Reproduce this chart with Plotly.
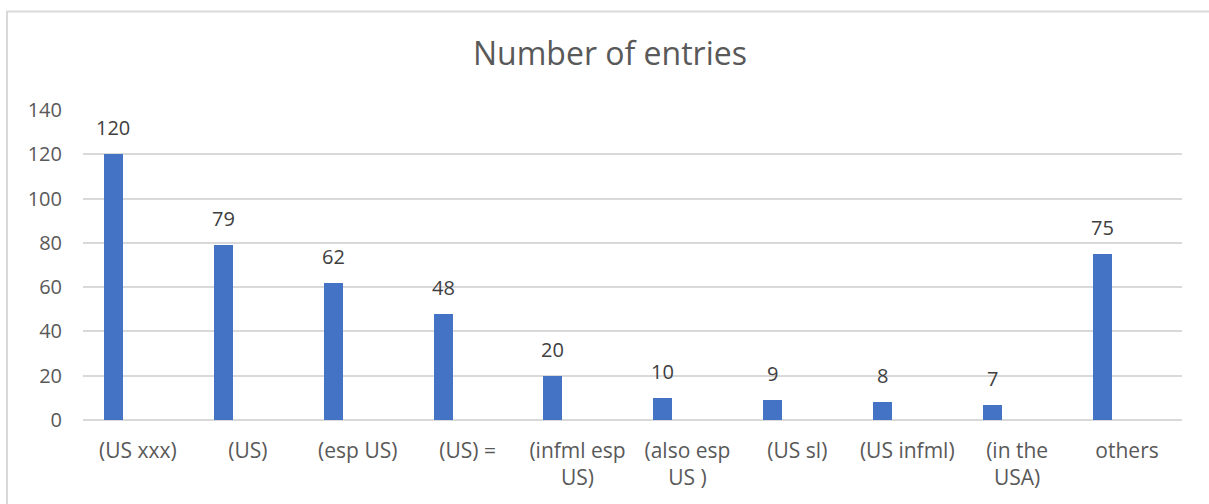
import plotly.graph_objects as go

categories = ["(US xxx)", "(US)", "(esp US)", "(US) =", "(infml esp<br>US)",
              "(also esp<br>US )", "(US sl)", "(US infml)", "(in the<br>USA)", "others"]
entries = [120, 79, 62, 48, 20, 10, 9, 8, 7, 75]
y_ticks = [0, 20, 40, 60, 80, 100, 120, 140]

BAR_COLOR = "#4472C4"
GRID_COLOR = "#D9D9D9"
TEXT_COLOR = "#595959"
LABEL_COLOR = "#404040"
FONT = "Open Sans"

BAR_WIDTH = 0.173
BAR_OFFSET = -0.31

fig = go.Figure()
fig.add_trace(go.Bar(
    x=categories,
    y=entries,
    width=BAR_WIDTH,
    offset=BAR_OFFSET,
    marker=dict(color=BAR_COLOR, line=dict(width=0)),
    hoverinfo="x+y",
))

# value labels centred above each bar
for i, v in enumerate(entries):
    fig.add_annotation(
        x=i + BAR_OFFSET + BAR_WIDTH / 2, y=v, xref="x", yref="y",
        text=str(v), showarrow=False, yanchor="bottom", yshift=11,
        font=dict(family=FONT, size=20, color=LABEL_COLOR),
    )

L, R, T, B = 83, 27, 110, 84
W, H = 1209, 504
pw, ph = W - L - R, H - T - B

# light chart-area border (pixel positions converted to paper units)
fig.add_shape(
    type="rect", xref="paper", yref="paper",
    x0=(7 - L) / pw, x1=(1212 - L) / pw,
    y0=(H - B - 515) / ph, y1=(H - B - 11.5) / ph,
    line=dict(color=GRID_COLOR, width=2), layer="below",
)

fig.update_layout(
    width=W, height=H,
    margin=dict(l=L, r=R, t=T, b=B),
    paper_bgcolor="white", plot_bgcolor="white",
    showlegend=False,
    bargap=0,
    title=dict(text="Number of entries", x=610 / W, xanchor="center",
               xref="container", y=1 - 54 / H, yref="container", yanchor="middle",
               font=dict(family=FONT, size=32, color=TEXT_COLOR)),
    xaxis=dict(
        type="category", range=[-0.5, len(categories) - 0.5],
        showgrid=False, showline=False, zeroline=False, ticks="",
        tickfont=dict(family=FONT, size=21, color=TEXT_COLOR),
        ticklabelstandoff=16,
    ),
    yaxis=dict(
        range=[0, 140], tickvals=y_ticks, showgrid=True, gridcolor=GRID_COLOR,
        gridwidth=1.5, zeroline=True, zerolinecolor=GRID_COLOR, zerolinewidth=1.5,
        showline=False, ticks="",
        tickfont=dict(family=FONT, size=20, color=TEXT_COLOR),
        ticklabelstandoff=20,
    ),
)

fig.write_html("out.html")
